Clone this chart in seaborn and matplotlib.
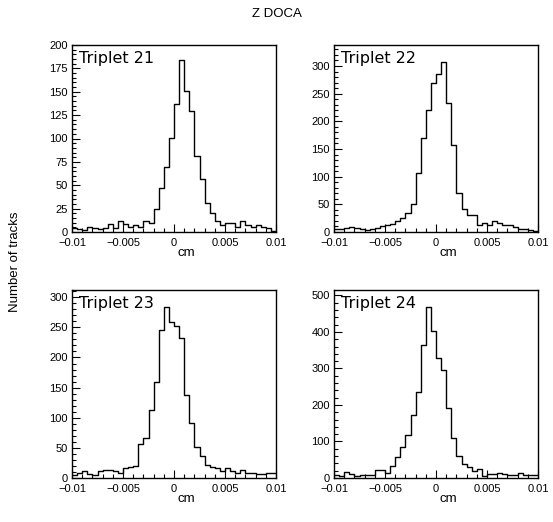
import numpy as np
import pandas as pd
import matplotlib
matplotlib.use("Agg")
import matplotlib.pyplot as plt
from matplotlib.ticker import MultipleLocator
import seaborn as sns

edges = np.linspace(-0.01, 0.01, 41)
centers = (edges[:-1] + edges[1:]) / 2

t21 = [4, 3, 2, 5, 4, 3, 4, 9, 4, 12, 9, 5, 8, 5, 12, 10, 25, 47, 70, 101,
       137, 184, 151, 129, 81, 57, 31, 20, 12, 8, 10, 10, 5, 12, 7, 5, 7, 5, 4, 1]
t22 = [5, 5, 7, 9, 7, 6, 3, 5, 8, 11, 13, 14, 20, 26, 34, 51, 106, 170, 220, 269,
       286, 307, 234, 157, 70, 41, 30, 30, 13, 17, 13, 20, 17, 13, 13, 9, 6, 5, 4, 1]
t23 = [5, 9, 12, 7, 5, 12, 14, 13, 11, 9, 17, 18, 20, 56, 66, 113, 160, 246, 284, 259,
       252, 233, 138, 91, 52, 37, 22, 19, 16, 12, 16, 12, 8, 13, 9, 8, 7, 7, 9, 9]
t24 = [7, 6, 16, 11, 5, 8, 9, 7, 23, 23, 14, 34, 58, 85, 119, 172, 236, 363, 468, 404,
       328, 295, 192, 110, 59, 39, 30, 20, 25, 6, 11, 10, 14, 11, 8, 7, 14, 8, 9, 9]

names = ["Triplet 21", "Triplet 22", "Triplet 23", "Triplet 24"]
series = [t21, t22, t23, t24]
ymaxes = [200, 338, 312, 515]
ymajor = [25, 50, 50, 100]
yminor = [5, 10, 10, 20]
xticks = [-0.01, -0.005, 0, 0.005, 0.01]
xticklabels = ["\u22120.01", "\u22120.005", "0", "0.005", "0.01"]

sns.set_style("white")
plt.rcParams["font.family"] = ["Liberation Sans", "DejaVu Sans"]
plt.rcParams["text.color"] = "black"
plt.rcParams["xtick.color"] = "black"
plt.rcParams["ytick.color"] = "black"

W, H = 553, 522
fig = plt.figure(figsize=(W / 100, H / 100), dpi=100)

boxes = [(72, 45, 276, 232), (334, 45, 538, 232),
         (72, 290, 276, 478), (334, 290, 538, 478)]

for i, (name, vals) in enumerate(zip(names, series)):
    x0, y0, x1, y1 = boxes[i]
    ax = fig.add_axes([x0 / W, 1 - y1 / H, (x1 - x0) / W, (y1 - y0) / H])
    df = pd.DataFrame({"x": centers, "n": np.asarray(vals, dtype=float)})
    sns.histplot(data=df, x="x", weights="n", bins=40, binrange=(-0.01, 0.01),
                 element="step", fill=False, color="black", linewidth=1.0, ax=ax)
    ax.set_xlim(-0.01, 0.01)
    ax.set_ylim(0, ymaxes[i])
    ax.set_xticks(xticks)
    ax.set_xticklabels(xticklabels)
    ax.xaxis.set_minor_locator(MultipleLocator(0.001))
    ax.yaxis.set_major_locator(MultipleLocator(ymajor[i]))
    ax.yaxis.set_minor_locator(MultipleLocator(yminor[i]))
    ax.tick_params(axis="both", which="both", bottom=True, left=True,
                   top=False, right=False, direction="in", color="black")
    ax.tick_params(axis="both", which="major", length=6, width=0.8,
                   labelsize=8, labelcolor="black")
    ax.tick_params(axis="x", which="major", pad=4)
    ax.tick_params(axis="y", which="major", pad=3)
    ax.tick_params(axis="both", which="minor", length=3, width=0.8)
    ax.set_xlabel("")
    ax.set_ylabel("")
    for s in ax.spines.values():
        s.set_color("black")
        s.set_linewidth(1.0)
    ax.text(0.035, 0.97, name, transform=ax.transAxes, ha="left", va="top",
            fontsize=11.5, family=["DejaVu Sans"], color="black")
    fig.text((x0 + 114) / W, 1 - (y1 + 21) / H, "cm", ha="center", va="center",
             fontsize=9.5)

fig.text(277 / W, 1 - 14 / H, "Z DOCA", ha="center", va="center", fontsize=9.5)
fig.text(15 / W, 1 - 262 / H, "Number of tracks", rotation=90,
         ha="center", va="center", fontsize=9.5)

fig.savefig("out.png", dpi=100, facecolor="white")
